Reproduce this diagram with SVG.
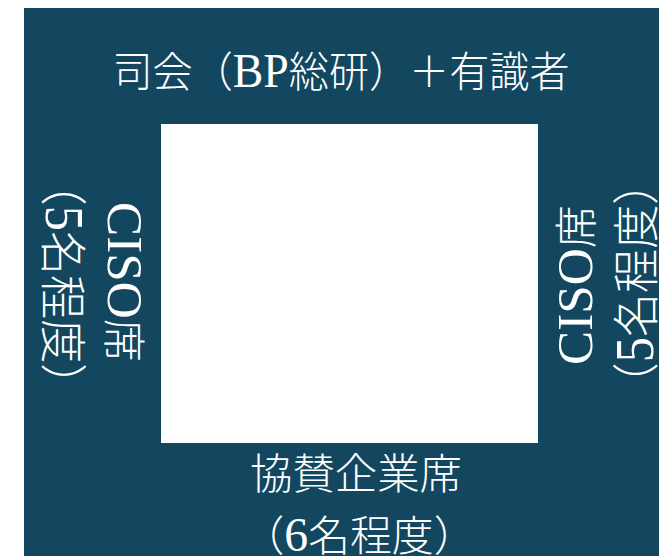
<svg xmlns="http://www.w3.org/2000/svg" width="659" height="556" viewBox="0 0 659 556">
<style>
.bg{fill:#12475f}
.stage{fill:#ffffff}
.t{font-family:"Liberation Serif","Noto Sans CJK JP",serif;fill:#ffffff;font-weight:300;text-anchor:middle}
.lat{font-size:48px}
</style>
<rect class="bg" x="24" y="8" width="660" height="560"/>
<g id="stage"><rect class="stage" x="161" y="124" width="377" height="319"/></g>
<g id="top-seat"><text class="t" x="341" y="87" font-size="42" textLength="457" lengthAdjust="spacingAndGlyphs">司会（<tspan class="lat">BP</tspan>総研）＋有識者</text></g>
<g id="left-seat">
<text class="t" transform="translate(108,282) rotate(90)" font-size="43" textLength="160" lengthAdjust="spacingAndGlyphs"><tspan font-size="51">CISO</tspan>席</text>
<text class="t" transform="translate(46,284.5) rotate(90)" font-size="47" textLength="246" lengthAdjust="spacingAndGlyphs">（<tspan font-size="54">5</tspan>名程度）</text>
</g>
<g id="right-seat">
<text class="t" transform="translate(592,285) rotate(-90)" font-size="43" textLength="160" lengthAdjust="spacingAndGlyphs"><tspan font-size="51">CISO</tspan>席</text>
<text class="t" transform="translate(653,283.5) rotate(-90)" font-size="47" textLength="246" lengthAdjust="spacingAndGlyphs">（<tspan font-size="54">5</tspan>名程度）</text>
</g>
<g id="bottom-seat">
<text class="t" x="356" y="489" font-size="42" textLength="212" lengthAdjust="spacingAndGlyphs">協賛企業席</text>
<text class="t" x="359" y="551" font-size="42" textLength="233" lengthAdjust="spacingAndGlyphs">（<tspan font-size="48">6</tspan>名程度）</text>
</g>
<g id="connectors"/>
</svg>
